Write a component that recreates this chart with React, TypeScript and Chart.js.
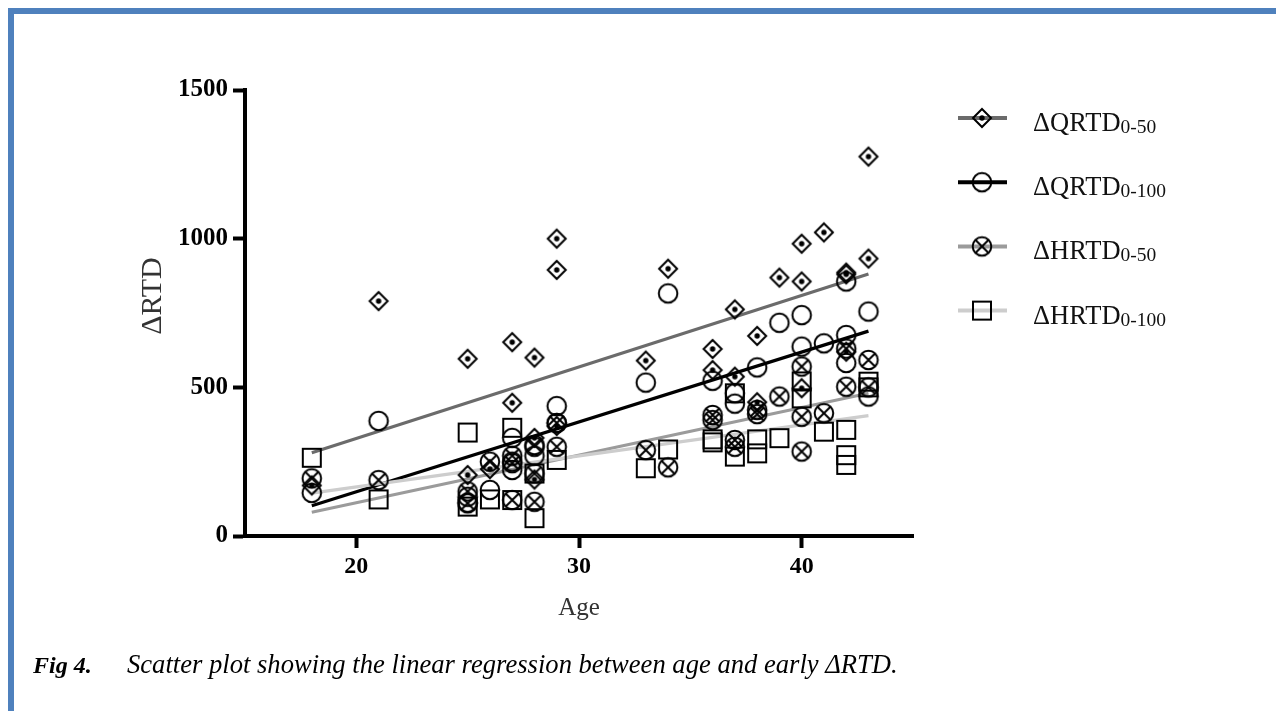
import React, { useEffect, useRef } from "react";
import { Chart, registerables } from "chart.js";

Chart.register(...registerables);

const FONT = '"Liberation Serif", "Times New Roman", serif';

// ---- data ----
const qrtd50Ages = [18, 21, 25, 25, 26, 27, 27, 28, 28, 28, 29, 29, 29, 33, 34, 36, 36, 37, 37, 38, 38, 39, 40, 40, 40, 41, 42, 42, 42, 43, 43];
const qrtd50Vals = [170, 790, 596, 205, 225, 652, 448, 600, 330, 190, 1000, 895, 370, 590, 899, 629, 558, 762, 536, 673, 450, 869, 983, 856, 497, 1021, 886, 880, 620, 1276, 933];

const qrtd100Ages = [18, 21, 25, 25, 26, 27, 27, 27, 28, 28, 29, 29, 33, 34, 36, 37, 37, 38, 39, 40, 40, 41, 42, 42, 42, 43, 43];
const qrtd100Vals = [145, 387, 132, 112, 155, 330, 222, 250, 300, 270, 437, 380, 516, 816, 522, 445, 480, 567, 717, 743, 637, 648, 856, 676, 582, 755, 469];

const hrtd50Ages = [18, 21, 25, 25, 26, 27, 27, 27, 28, 28, 28, 29, 29, 33, 34, 36, 36, 37, 37, 38, 38, 39, 40, 40, 40, 41, 42, 42, 43, 43];
const hrtd50Vals = [194, 188, 150, 110, 250, 121, 270, 245, 115, 306, 210, 380, 300, 289, 231, 407, 390, 323, 300, 424, 410, 469, 570, 401, 284, 413, 502, 630, 592, 500];

const hrtd100Ages = [18, 21, 25, 25, 26, 27, 27, 28, 28, 29, 33, 34, 36, 36, 37, 37, 38, 38, 39, 40, 40, 41, 42, 42, 42, 43, 43];
const hrtd100Vals = [263, 123, 348, 99, 123, 121, 364, 60, 210, 256, 228, 291, 325, 315, 267, 480, 325, 278, 329, 463, 520, 351, 357, 272, 239, 519, 500];

// regression lines (end points)
const fitAges = [18, 43];
const qrtd50Fit = [280, 881];
const qrtd100Fit = [102, 689];
const hrtd50Fit = [80, 480];
const hrtd100Fit = [144, 405];

const xTicks = [20, 30, 40];
const yTicks = [0, 500, 1000, 1500];

const seriesNames = ["ΔQRTD", "ΔQRTD", "ΔHRTD", "ΔHRTD"];
const seriesSubs = ["0-50", "0-100", "0-50", "0-100"];
const lineColors = ["#6b6b6b", "#000000", "#9b9b9b", "#cdcdcd"];
const markerKinds = ["diamond", "circle", "crossCircle", "square"];

function makeMarker(kind: string): HTMLCanvasElement {
  const size = 24;
  const c = document.createElement("canvas");
  c.width = size;
  c.height = size;
  const ctx = c.getContext("2d")!;
  const m = size / 2;
  ctx.strokeStyle = "#000";
  ctx.fillStyle = "#000";
  ctx.lineWidth = 2;
  if (kind === "diamond") {
    const r = 9;
    ctx.beginPath();
    ctx.moveTo(m, m - r);
    ctx.lineTo(m + r, m);
    ctx.lineTo(m, m + r);
    ctx.lineTo(m - r, m);
    ctx.closePath();
    ctx.stroke();
    ctx.beginPath();
    ctx.arc(m, m, 2.7, 0, Math.PI * 2);
    ctx.fill();
  } else if (kind === "circle") {
    ctx.beginPath();
    ctx.arc(m, m, 9.3, 0, Math.PI * 2);
    ctx.stroke();
  } else if (kind === "crossCircle") {
    const r = 9.3;
    ctx.beginPath();
    ctx.arc(m, m, r, 0, Math.PI * 2);
    ctx.stroke();
    const d = r * 0.7071;
    ctx.beginPath();
    ctx.moveTo(m - d, m - d);
    ctx.lineTo(m + d, m + d);
    ctx.moveTo(m + d, m - d);
    ctx.lineTo(m - d, m + d);
    ctx.stroke();
  } else {
    const h = 9;
    ctx.strokeRect(m - h, m - h, 2 * h, 2 * h);
  }
  return c;
}

const toPts = (xs: number[], ys: number[]) => xs.map((x, i) => ({ x, y: ys[i] }));

export default function App() {
  const ref = useRef<HTMLCanvasElement | null>(null);

  useEffect(() => {
    if (!ref.current) return;
    const markers = markerKinds.map(makeMarker);
    const scatterAges = [qrtd50Ages, qrtd100Ages, hrtd50Ages, hrtd100Ages];
    const scatterVals = [qrtd50Vals, qrtd100Vals, hrtd50Vals, hrtd100Vals];
    const fits = [qrtd50Fit, qrtd100Fit, hrtd50Fit, hrtd100Fit];

    const lineSets = fits.map((f, i) => ({
      type: "line" as const,
      label: seriesNames[i] + seriesSubs[i] + " fit",
      data: toPts(fitAges, f),
      borderColor: lineColors[i],
      borderWidth: 3.2,
      pointRadius: 0,
      fill: false,
      order: 2 + (3 - i),
    }));
    const pointSets = scatterAges.map((a, i) => ({
      type: "scatter" as const,
      label: seriesNames[i] + seriesSubs[i],
      data: toPts(a, scatterVals[i]),
      pointStyle: markers[i],
      pointRadius: 10,
      borderColor: "#000",
      backgroundColor: "rgba(0,0,0,0)",
      showLine: false,
      order: 1,
    }));

    const legendPlugin = {
      id: "customLegend",
      afterDraw(chart: any) {
        const ctx = chart.ctx as CanvasRenderingContext2D;
        ctx.save();
        seriesNames.forEach((name, i) => {
          const y = 118 + i * 64.2;
          ctx.strokeStyle = lineColors[i];
          ctx.lineWidth = 4;
          ctx.beginPath();
          ctx.moveTo(958, y);
          ctx.lineTo(1007, y);
          ctx.stroke();
          const mk = markers[i];
          ctx.drawImage(mk, 982 - mk.width / 2, y - mk.height / 2);
          ctx.fillStyle = "#111";
          ctx.textAlign = "left";
          ctx.textBaseline = "alphabetic";
          ctx.font = `26.5px ${FONT}`;
          ctx.fillText(name, 1033, y + 13);
          const w = ctx.measureText(name).width;
          ctx.font = `19.5px ${FONT}`;
          ctx.fillText(seriesSubs[i], 1033 + w, y + 15);
        });
        ctx.restore();
      },
    };

    const yTitlePlugin = {
      id: "yTitle",
      afterDraw(chart: any) {
        const ctx = chart.ctx as CanvasRenderingContext2D;
        ctx.save();
        ctx.translate(161, 296);
        ctx.rotate(-Math.PI / 2);
        ctx.font = `30px ${FONT}`;
        ctx.fillStyle = "#333";
        ctx.textAlign = "center";
        ctx.textBaseline = "alphabetic";
        ctx.fillText("ΔRTD", 0, 0);
        ctx.restore();
      },
    };

    const chart = new Chart(ref.current, {
      type: "scatter",
      data: { datasets: [...lineSets, ...pointSets] as any },
      options: {
        animation: false,
        responsive: false,
        layout: { padding: { left: 130, top: 90, right: 363, bottom: 85 } },
        plugins: { legend: { display: false }, tooltip: { enabled: false } },
        scales: {
          x: {
            type: "linear",
            min: 15,
            max: 45,
            afterBuildTicks: (s: any) => {
              s.ticks = xTicks.map((v) => ({ value: v }));
            },
            afterFit: (s: any) => {
              s.height = 90;
            },
            border: { display: true, color: "#000", width: 4 },
            grid: { drawOnChartArea: false, drawTicks: true, tickLength: 12, tickWidth: 4, tickColor: "#000" },
            ticks: {
              color: "#000",
              font: { family: FONT, size: 24, weight: "bold" },
              padding: 4,
              callback: (v: any) => String(v),
            },
            title: { display: true, text: "Age", color: "#333", font: { family: FONT, size: 25 }, padding: { top: 0, bottom: 3 } },
          },
          y: {
            type: "linear",
            min: 0,
            max: 1500,
            afterBuildTicks: (s: any) => {
              s.ticks = yTicks.map((v) => ({ value: v }));
            },
            afterFit: (s: any) => {
              s.width = 115;
            },
            border: { display: true, color: "#000", width: 4 },
            grid: { drawOnChartArea: false, drawTicks: true, tickLength: 12, tickWidth: 4, tickColor: "#000" },
            ticks: {
              color: "#000",
              font: { family: FONT, size: 25, weight: "bold" },
              padding: 5,
              callback: (v: any) => String(v),
            },
          },
        },
      },
      plugins: [legendPlugin, yTitlePlugin],
    });
    return () => chart.destroy();
  }, []);

  return (
    <div style={{ position: "absolute", left: 0, top: 0, width: 1276, height: 711, overflow: "hidden", background: "#fff" }}>
      <div
        style={{
          position: "absolute",
          left: 8,
          top: 8,
          right: 0,
          bottom: 0,
          borderTop: "6px solid #4F81BD",
          borderLeft: "6px solid #4F81BD",
          boxSizing: "border-box",
        }}
      />
      <canvas ref={ref} width={1276} height={711} style={{ position: "absolute", left: 0, top: 0, width: 1276, height: 711 }} />
      <div
        style={{
          position: "absolute",
          left: 33,
          top: 649,
          fontFamily: FONT,
          fontSize: 26.6,
          lineHeight: "30px",
          fontStyle: "italic",
          whiteSpace: "nowrap",
          color: "#000",
        }}
      >
        <span style={{ fontWeight: "bold", fontSize: 24 }}>Fig 4.</span>
        <span style={{ position: "absolute", left: 94 }}>Scatter plot showing the linear regression between age and early ΔRTD.</span>
      </div>
    </div>
  );
}
